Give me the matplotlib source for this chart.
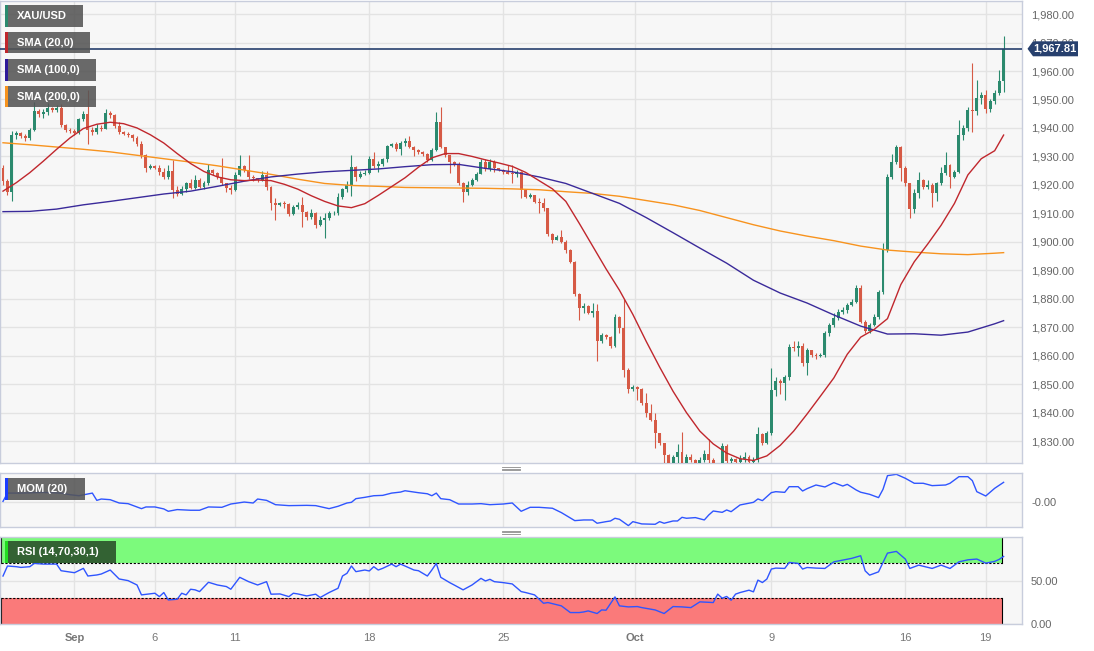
import numpy as np
import matplotlib
matplotlib.use("Agg")
import matplotlib.pyplot as plt
from matplotlib.patches import Rectangle, Polygon
from matplotlib.lines import Line2D

plt.rcParams["font.family"] = ["Liberation Sans", "DejaVu Sans"]

# ---- data (4h candles, XAU/USD) ----
first_open = 1926.0
closes = [
    1921.5, 1917.5, 1937.5, 1938.3, 1937.3, 1936.5, 1939.3, 1946.0, 1944.8, 1945.5,
    1947.0, 1946.2, 1947.0, 1941.0, 1939.3, 1938.8, 1938.2, 1943.0, 1945.0, 1939.3,
    1938.5, 1940.0, 1939.5, 1945.2, 1944.5, 1940.6, 1938.5, 1938.0, 1937.5, 1936.3,
    1934.5, 1930.5, 1925.8, 1926.8, 1926.0, 1924.5, 1922.8, 1925.0, 1918.2, 1916.8,
    1918.5, 1920.5, 1919.0, 1921.8, 1919.4, 1920.5, 1925.2, 1924.1, 1922.9, 1920.5,
    1918.8, 1918.2, 1923.5, 1926.6, 1925.4, 1922.9, 1922.3, 1921.7, 1923.3, 1919.4,
    1913.5, 1913.0, 1913.5, 1913.3, 1909.8, 1912.3, 1913.0, 1910.6, 1908.8, 1910.0,
    1905.9, 1907.7, 1908.2, 1910.0, 1910.3, 1915.9, 1918.4, 1920.0, 1926.4, 1922.6,
    1924.0, 1924.1, 1929.0, 1926.6, 1927.3, 1929.0, 1933.6, 1934.2, 1932.5, 1934.8,
    1935.4, 1933.4, 1932.2, 1931.6, 1930.7, 1928.7, 1932.2, 1942.2, 1933.4, 1930.5,
    1928.1, 1927.0, 1920.5, 1917.6, 1920.0, 1921.7, 1924.0, 1928.1, 1925.5, 1928.1,
    1925.8, 1925.2, 1924.6, 1924.0, 1923.8, 1924.6, 1918.2, 1915.9, 1916.5, 1914.1,
    1913.8, 1911.8, 1902.8, 1900.7, 1901.8, 1900.1, 1897.0, 1893.0, 1881.7, 1876.7,
    1877.3, 1874.9, 1875.6, 1865.0, 1867.3, 1866.7, 1863.5, 1873.7, 1869.7, 1855.0,
    1848.2, 1849.0, 1848.2, 1843.3, 1839.8, 1837.5, 1832.8, 1829.3, 1825.2, 1821.5,
    1824.5, 1826.0, 1821.0, 1824.5, 1823.5, 1821.0, 1823.5, 1825.5, 1823.2, 1821.2,
    1820.0, 1828.4, 1823.0, 1823.6, 1822.5, 1823.8, 1824.5, 1822.5, 1823.4, 1832.5,
    1829.2, 1832.8, 1848.0, 1851.0, 1850.3, 1852.6, 1863.2, 1862.6, 1863.3, 1857.4,
    1862.0, 1860.3, 1859.8, 1860.4, 1867.9, 1870.8, 1873.2, 1875.5, 1875.9, 1877.9,
    1879.0, 1883.7, 1872.0, 1868.5, 1870.8, 1873.7, 1882.2, 1897.2, 1922.9, 1928.2,
    1933.4, 1925.8, 1920.5, 1911.4, 1917.0, 1921.7, 1919.4, 1919.8, 1917.1, 1920.6,
    1924.1, 1927.0, 1922.9, 1924.6, 1937.5, 1939.9, 1946.3, 1945.8, 1950.4, 1951.6,
    1946.5, 1949.6, 1952.2, 1956.6, 1967.81,
]
highs = [
    1927, 1922, 1939, 1939, 1938.5, 1938, 1940, 1949, 1946.5, 1946.5,
    1948.6, 1947.5, 1948, 1948.5, 1941.5, 1940, 1939.5, 1943.5, 1946, 1953.3,
    1940.5, 1941.5, 1941, 1946.5, 1946, 1945, 1942, 1939, 1938.5, 1938,
    1937, 1935.5, 1931, 1927.5, 1927, 1927, 1926, 1927, 1928.8, 1919.5,
    1919.5, 1921, 1922, 1923.5, 1922.5, 1921.5, 1927.5, 1925.5, 1924.5, 1929.3,
    1920.5, 1919.8, 1924.5, 1930.5, 1927, 1930.5, 1923.5, 1922.5, 1924.8, 1924.8,
    1919.5, 1915.3, 1914, 1914.5, 1913.8, 1913, 1914, 1915.9, 1911, 1911.5,
    1910.5, 1909, 1910, 1911, 1911, 1917, 1919, 1921.5, 1930.5, 1926.8,
    1925, 1925.2, 1930, 1931.5, 1928.5, 1929.5, 1934, 1934.8, 1935, 1935.5,
    1936.3, 1937, 1933.6, 1932.5, 1932, 1931.2, 1933, 1945.5, 1947.5, 1933.4,
    1930.5, 1928.3, 1928, 1921, 1921.2, 1922.5, 1924.5, 1929, 1929, 1929,
    1928.8, 1926, 1925.5, 1927, 1927, 1925.3, 1925, 1918.5, 1917, 1916.5,
    1915.3, 1915.3, 1912, 1903, 1902.5, 1904, 1900.5, 1897.5, 1893.2, 1882,
    1878.5, 1877.8, 1878.5, 1878, 1868, 1867.5, 1867, 1874.5, 1874, 1879.8,
    1855.5, 1849.8, 1849.5, 1848.8, 1846.8, 1843, 1840, 1833, 1829.5, 1825.5,
    1825.2, 1829, 1833.3, 1825.5, 1825.5, 1823.8, 1824.5, 1827, 1830.6, 1824,
    1822, 1829.2, 1829, 1824.5, 1824, 1825, 1826, 1825, 1824.5, 1835,
    1833, 1833.5, 1855.6, 1852.5, 1851.8, 1853.2, 1864, 1865, 1865, 1864.5,
    1862.8, 1862, 1861, 1861, 1868.5, 1871.5, 1874.9, 1876.5, 1877, 1878.5,
    1880, 1884.9, 1885, 1872.5, 1871.5, 1874.5, 1883, 1899.5, 1924, 1931,
    1934, 1933.5, 1926.5, 1920, 1918.5, 1924.6, 1922, 1921.8, 1920.5, 1921,
    1926.4, 1931.7, 1927.5, 1925.2, 1942.8, 1941, 1947.5, 1962.7, 1956.8, 1952.5,
    1953.5, 1950.2, 1953.3, 1960.3, 1972.3,
]
lows = [
    1920, 1916.5, 1914.5, 1936, 1936.5, 1935.5, 1935.8, 1939, 1943.8, 1943.5,
    1944.5, 1945.5, 1945.5, 1940.5, 1938.5, 1938.2, 1937.5, 1938, 1942.5, 1934.5,
    1937.5, 1938, 1938.8, 1939.5, 1943.5, 1940, 1937.8, 1937.5, 1936.8, 1935.5,
    1933.5, 1929.5, 1924.5, 1925.5, 1925.5, 1923.5, 1922, 1922, 1915.3, 1916,
    1916.5, 1917.5, 1918.5, 1918.5, 1919, 1918.5, 1920, 1923.5, 1922, 1920,
    1917.5, 1916.8, 1917.8, 1923, 1924.5, 1922, 1921.5, 1921, 1921.5, 1918.2,
    1911.2, 1907.7, 1912.5, 1911.8, 1909, 1909.5, 1911.5, 1905.3, 1907.5, 1908,
    1904.8, 1905.5, 1901.2, 1907.5, 1909.5, 1909.5, 1915, 1917.5, 1916, 1921.5,
    1922.3, 1923.5, 1924, 1926, 1924.5, 1926.5, 1928, 1933.2, 1931.8, 1930.5,
    1933.5, 1932.8, 1930, 1931, 1930, 1928, 1928.5, 1932, 1932.8, 1929.8,
    1924.3, 1926.5, 1920, 1914.1, 1916.5, 1919.5, 1921.5, 1923.8, 1925, 1925,
    1924.6, 1924.8, 1924, 1923.8, 1920.8, 1922.8, 1915.3, 1915.3, 1915.5, 1913.8,
    1910, 1911, 1902, 1899.5, 1900.5, 1899.5, 1896, 1892.5, 1881, 1872.6,
    1875, 1874.5, 1873.5, 1858, 1864.5, 1866, 1862.8, 1863, 1868, 1852.6,
    1846.8, 1847.5, 1844.5, 1842.5, 1838.5, 1837, 1827.5, 1828.5, 1822.3, 1818,
    1819.5, 1819, 1818, 1820, 1822.5, 1818, 1819, 1822.5, 1822, 1819,
    1817.5, 1819.5, 1821, 1820, 1821.5, 1821, 1822.5, 1821.5, 1822, 1822.8,
    1828.5, 1828.8, 1832, 1846, 1846.5, 1844.5, 1851.5, 1861.8, 1860, 1856.5,
    1853.3, 1859.5, 1859, 1859.5, 1859.5, 1867, 1870, 1872.5, 1874.5, 1875,
    1877.5, 1878.5, 1871.5, 1867.8, 1868, 1870.5, 1873, 1881.5, 1896.5, 1922,
    1927.5, 1921.5, 1919.5, 1908.3, 1910, 1915.3, 1918.5, 1918.5, 1912.4, 1914.2,
    1920, 1923.5, 1918.8, 1922.3, 1924.2, 1935.8, 1939, 1938.7, 1944.5, 1948.5,
    1945.3, 1945.5, 1948.5, 1951.5, 1952.8,
]
last_price = 1967.81

sma20_idx = list(range(0, 223, 3)) + [224]
sma20 = [1917.8, 1920.8, 1924.3, 1928.3, 1932.5, 1936.5, 1939.8, 1941.3, 1942.0,
         1941.5, 1940.0, 1937.6, 1934.7, 1931.0, 1927.5, 1924.7, 1922.8, 1921.8,
         1921.5, 1921.7, 1921.5, 1920.2, 1918.5, 1916.2, 1914.2, 1912.6, 1912.0,
         1913.4, 1916.3, 1919.4, 1922.5, 1926.2, 1929.5, 1931.0, 1931.0, 1930.0,
         1928.8, 1927.7, 1926.5, 1924.4, 1921.5, 1918.6, 1914.2, 1906.5, 1898.5,
         1890.5, 1883.0, 1874.5, 1865.0, 1856.0, 1847.5, 1840.0, 1833.5, 1829.0,
         1825.8, 1823.8, 1823.2, 1824.8, 1828.5, 1833.5, 1839.5, 1845.8, 1852.2,
         1860.5, 1866.5, 1869.2, 1873.0, 1885.0, 1893.0, 1899.2, 1905.8, 1913.5,
         1923.5, 1929.2, 1932.0, 1937.5]

sma_idx = [0, 6, 12, 18, 24, 30, 36, 42, 48, 54, 60, 66, 72, 78, 84, 90, 96, 102,
           108, 114, 120, 126, 132, 138, 144, 150, 156, 162, 168, 174, 180, 186,
           192, 198, 204, 210, 216, 222, 224]
sma100 = [1910.6, 1910.7, 1911.5, 1913.0, 1914.2, 1915.5, 1916.8, 1917.8, 1919.5,
          1921.3, 1922.8, 1923.8, 1924.6, 1925.1, 1925.6, 1926.4, 1927.1, 1927.2,
          1925.8, 1924.6, 1922.8, 1920.5, 1917.0, 1913.5, 1908.5, 1903.2, 1897.8,
          1892.5, 1886.5, 1882.0, 1878.5, 1874.3, 1870.4, 1867.6, 1867.7, 1867.2,
          1868.3, 1871.2, 1872.3]
sma200 = [1934.8, 1934.1, 1933.3, 1932.5, 1931.6, 1930.4, 1929.2, 1928.0, 1926.7,
          1925.2, 1923.7, 1922.0, 1920.5, 1919.8, 1919.5, 1919.1, 1919.0, 1918.9,
          1918.8, 1918.6, 1918.3, 1917.6, 1917.0, 1916.0, 1914.5, 1913.0, 1911.0,
          1908.5, 1906.0, 1903.8, 1902.0, 1900.4, 1898.5, 1897.1, 1896.4, 1895.8,
          1895.5, 1896.0, 1896.2]

mom_idx = [0, 1, 4, 9, 13, 15, 17, 20, 21, 22, 24, 26, 28, 31, 32, 34, 36, 37, 39,
           42, 44, 46, 49, 51, 54, 56, 57, 59, 61, 64, 68, 70, 73, 75, 77, 78, 79,
           81, 83, 85, 87, 89, 90, 93, 95, 96, 97, 98, 100, 102, 105, 107, 109, 112,
           114, 116, 118, 120, 123, 125, 128, 130, 132, 133, 135, 136, 137, 138,
           140, 141, 143, 146, 147, 148, 150, 151, 152, 153, 155, 157, 158, 159,
           161, 162, 163, 165, 168, 169, 170, 172, 173, 175, 176, 178, 179, 180,
           182, 184, 186, 188, 189, 191, 192, 194, 196, 197, 198, 200, 202, 204,
           206, 208, 211, 212, 214, 216, 217, 218, 220, 222, 224]
mom = [1.7, 22.8, 22.8, 24.5, 22.8, 18.7, 16.1, 22.8, 4.3, 7.7, 6.0, -2.4, -4.1,
       -16.8, -12.5, -12.5, -17.5, -23.5, -19.2, -20.9, -20.9, -12.5, -13.4, -5.0,
       0.0, -2.4, 7.7, 4.3, -6.7, -9.1, -8.4, -9.1, -16.8, -10.8, -2.4, -0.7, 8.6,
       12.0, 16.1, 17.0, 22.8, 25.4, 28.8, 23.8, 21.1, 16.1, 22.8, 8.6, 6.0, -5.0,
       -5.0, -4.1, -6.7, -5.0, -2.4, -23.5, -13.4, -13.4, -15.8, -26.9, -47.3,
       -45.6, -45.6, -54.0, -49.9, -48.2, -41.3, -43.9, -60.0, -49.9, -55.7, -56.6,
       -49.9, -54.0, -48.2, -48.2, -38.9, -41.3, -39.6, -45.6, -32.9, -22.8, -26.2,
       -20.2, -24.5, -7.4, -0.7, 7.9, 3.6, 24.0, 26.4, 24.7, 39.1, 39.1, 28.1, 34.1,
       43.4, 38.4, 49.4, 40.8, 45.1, 30.7, 25.0, 19.7, 11.3, 32.4, 67.2, 70.6, 60.5,
       47.8, 47.8, 41.8, 43.4, 47.8, 64.6, 64.6, 54.5, 26.4, 15.4, 35.0, 50.2]

rsi_idx = [0, 1, 3, 4, 6, 7, 9, 12, 13, 16, 18, 19, 21, 22, 24, 26, 28, 30, 31, 34,
           35, 36, 37, 39, 40, 41, 42, 43, 44, 46, 48, 50, 51, 53, 55, 57, 59, 60,
           62, 64, 65, 66, 68, 70, 71, 73, 75, 76, 77, 78, 79, 81, 82, 83, 84, 85,
           87, 88, 89, 90, 92, 93, 95, 96, 97, 98, 100, 101, 103, 105, 107, 108,
           109, 110, 112, 114, 116, 117, 119, 121, 122, 125, 127, 129, 130, 131,
           133, 134, 135, 137, 138, 140, 142, 143, 146, 148, 150, 152, 154, 156,
           159, 160, 161, 162, 163, 164, 165, 167, 168, 169, 170, 171, 172, 173,
           175, 176, 178, 179, 180, 182, 184, 186, 188, 190, 192, 193, 194, 196,
           197, 198, 200, 202, 203, 205, 208, 210, 212, 214, 216, 218, 220, 222,
           223, 224]
rsi = [55.5, 67.0, 66.2, 65.4, 66.2, 70.0, 69.2, 69.2, 61.6, 59.3, 64.3, 55.5, 56.7,
       57.8, 62.4, 52.1, 50.2, 45.2, 33.8, 35.7, 31.8, 36.5, 28.0, 28.8, 35.7, 33.8,
       40.3, 39.6, 37.6, 48.3, 45.2, 43.4, 40.3, 54.0, 49.0, 45.2, 49.0, 34.6, 34.9,
       31.8, 35.7, 34.9, 32.6, 34.6, 30.8, 36.5, 41.4, 55.5, 58.6, 67.0, 60.5, 62.4,
       61.3, 66.2, 62.4, 64.3, 69.2, 66.2, 69.2, 67.0, 62.4, 61.6, 55.5, 62.4, 70.0,
       54.0, 47.9, 45.2, 39.6, 45.2, 52.8, 49.8, 51.7, 49.0, 47.9, 46.4, 37.6, 36.5,
       33.8, 24.2, 25.0, 21.2, 13.5, 13.5, 14.2, 15.4, 12.4, 16.5, 16.2, 31.5, 21.2,
       20.0, 20.4, 19.2, 16.5, 12.4, 20.4, 20.0, 19.2, 25.8, 25.0, 34.7, 30.0, 32.0,
       27.7, 34.7, 36.5, 39.2, 37.3, 50.8, 48.0, 52.0, 63.5, 64.6, 64.2, 71.1, 70.0,
       63.5, 65.3, 64.6, 64.2, 71.8, 73.8, 75.8, 78.8, 61.5, 56.5, 60.3, 71.1, 81.8,
       83.8, 75.0, 64.2, 68.0, 64.2, 68.0, 64.2, 71.8, 74.1, 75.0, 70.3, 72.3, 74.6,
       78.0]

date_pos = [16, 34, 52, 82, 112, 141.5, 172, 202, 220]
date_labels = ["Sep", "6", "11", "18", "25", "Oct", "9", "16", "19"]
month_labels = {"Sep", "Oct"}

# ---- layout (pixels) ----
W, H = 1094, 651
PLOT_BG = "#f7f7f7"
GRID = "#e3e3e3"
SPINE = "#c8cddc"
UP = "#2b8a6e"
DOWN = "#d65a45"
LABEL = "#666666"


def rect(x0, y0, x1, y1):
    return [x0 / W, 1 - y1 / H, (x1 - x0) / W, (y1 - y0) / H]


fig = plt.figure(figsize=(W / 100, H / 100), dpi=100, facecolor="white")
ax = fig.add_axes(rect(0, 1, 1022, 463))
ax_mom = fig.add_axes(rect(0, 473.3, 1022, 527.3), sharex=ax)
ax_rsi = fig.add_axes(rect(0, 537.3, 1022, 624.3), sharex=ax)

x0_idx = -3 / 4.467
x1_idx = (1022 - 3) / 4.467

for a in (ax, ax_mom, ax_rsi):
    a.set_facecolor(PLOT_BG)
    for s in a.spines.values():
        s.set_color(SPINE)
        s.set_linewidth(1)
    a.set_xticks(date_pos)
    a.grid(True, color=GRID, linewidth=1)
    a.set_axisbelow(True)
    a.yaxis.set_ticks_position("right")
    a.tick_params(axis="y", length=0, pad=6.5, labelsize=8, labelcolor=LABEL)
    a.tick_params(axis="x", length=0)
    a.set_xlim(x0_idx, x1_idx)

# ---- candles ----
c = np.array(closes)
o = np.concatenate([[first_open], c[:-1]])
h = np.maximum(np.array(highs), np.maximum(o, c))
l = np.minimum(np.array(lows), np.minimum(o, c))
idx = np.arange(len(c))
colors = np.where(c >= o, UP, DOWN)
ax.vlines(idx, l, h, colors=colors, linewidth=0.8, zorder=3)
body_lo = np.minimum(o, c)
body_h = np.maximum(np.abs(c - o), 0.3)
ax.bar(idx, body_h, bottom=body_lo, width=0.66, color=colors, linewidth=0, zorder=3)

ax.plot(sma_idx, sma200, color="#f7931e", linewidth=1.0, zorder=4)
ax.plot(sma_idx, sma100, color="#3a2a9a", linewidth=1.0, zorder=4)
ax.plot(sma20_idx, sma20, color="#c0272d", linewidth=1.0, zorder=4)
ax.axhline(last_price, color="#27406e", linewidth=1.2, zorder=5)

ax.set_ylim(1822.3, 1984.6)
ax.set_yticks(np.arange(1830, 1990, 10))
ax.set_yticklabels([f"{v:,.2f}" for v in np.arange(1830, 1990, 10)])
ax.tick_params(axis="x", labelbottom=False)

# ---- MOM ----
ax_mom.plot(mom_idx, mom, color="#2f55ff", linewidth=1)
ax_mom.set_ylim(-64.3, 73.2)
ax_mom.set_yticks([0])
ax_mom.set_yticklabels(["-0.00"])
ax_mom.tick_params(axis="x", labelbottom=False)

# ---- RSI ----
band_l, band_r = -0.5, 223.7
ax_rsi.fill_between([band_l, band_r], 70, 100, color="#7cfa7c", linewidth=0, zorder=1)
ax_rsi.fill_between([band_l, band_r], 0, 30, color="#fa7a7a", linewidth=0, zorder=1)
for yv in (70, 30):
    ax_rsi.plot([band_l, band_r], [yv, yv], color="black", linewidth=0.8,
                dashes=(2, 1.5), zorder=2)
for xv in (band_l, band_r):
    ax_rsi.plot([xv, xv], [70, 100], color="black", linewidth=0.8, zorder=2)
    ax_rsi.plot([xv, xv], [0, 30], color="black", linewidth=0.8, zorder=2)
ax_rsi.plot(rsi_idx, rsi, color="#2f55ff", linewidth=1, zorder=3)
ax_rsi.set_ylim(0, 100)
ax_rsi.set_yticks([0, 50])
ax_rsi.set_yticklabels(["0.00", "50.00"])
ax_rsi.set_xticklabels(date_labels)
ax_rsi.tick_params(axis="x", pad=6, labelsize=8, labelcolor="#777777")
for t in ax_rsi.get_xticklabels():
    if t.get_text() in month_labels:
        t.set_fontweight("bold")

# ---- legend boxes ----
def label_box(x0, y0, x1, y1, text, bar_color, box_color="#555555", alpha=0.88):
    fig.add_artist(Rectangle((x0 / W, 1 - y1 / H), (x1 - x0) / W, (y1 - y0) / H,
                             transform=fig.transFigure, facecolor=box_color,
                             alpha=alpha, linewidth=0, zorder=10))
    fig.add_artist(Rectangle((x0 / W, 1 - y1 / H), 3 / W, (y1 - y0) / H,
                             transform=fig.transFigure, facecolor=bar_color,
                             linewidth=0, zorder=11))
    fig.text((x0 + 12) / W, 1 - (y0 + y1) / 2 / H, text, color="white",
             fontsize=8, fontweight="bold", va="center", ha="left", zorder=12)


label_box(5, 5, 83, 27, "XAU/USD", UP)
label_box(5, 32, 90, 53, "SMA (20,0)", "#c0272d")
label_box(5, 59, 96, 81, "SMA (100,0)", "#2e1a99")
label_box(5, 86, 96, 107, "SMA (200,0)", "#f7931e")
label_box(5, 478, 85, 500, "MOM (20)", "#1a3cff")
label_box(5, 541, 116, 563, "RSI (14,70,30,1)", "#22dd22", box_color="#2f5a2f", alpha=0.95)

# ---- last price tag ----
py = 1 + (1984.6 - last_price) / (1984.6 - 1822.3) * 462
tag = [(1027.5, py), (1033, py - 7.5), (1078, py - 7.5), (1078, py + 7.5), (1033, py + 7.5)]
fig.add_artist(Polygon([(x / W, 1 - y / H) for x, y in tag], closed=True,
                       transform=fig.transFigure, facecolor="#27406e",
                       linewidth=0, zorder=10))
fig.text(1055 / W, 1 - py / H, f"{last_price:,.2f}", color="white", fontsize=8,
         fontweight="bold", ha="center", va="center", zorder=11)

# ---- panel handles ----
for yc in (468.5, 532.3):
    for dy in (-1.5, 0, 1.5):
        fig.add_artist(Line2D([502 / W, 520 / W], [1 - (yc + dy) / H] * 2,
                              transform=fig.transFigure, color="#8a8a8a",
                              linewidth=0.6))

fig.savefig("out.png", dpi=100, facecolor="white")
